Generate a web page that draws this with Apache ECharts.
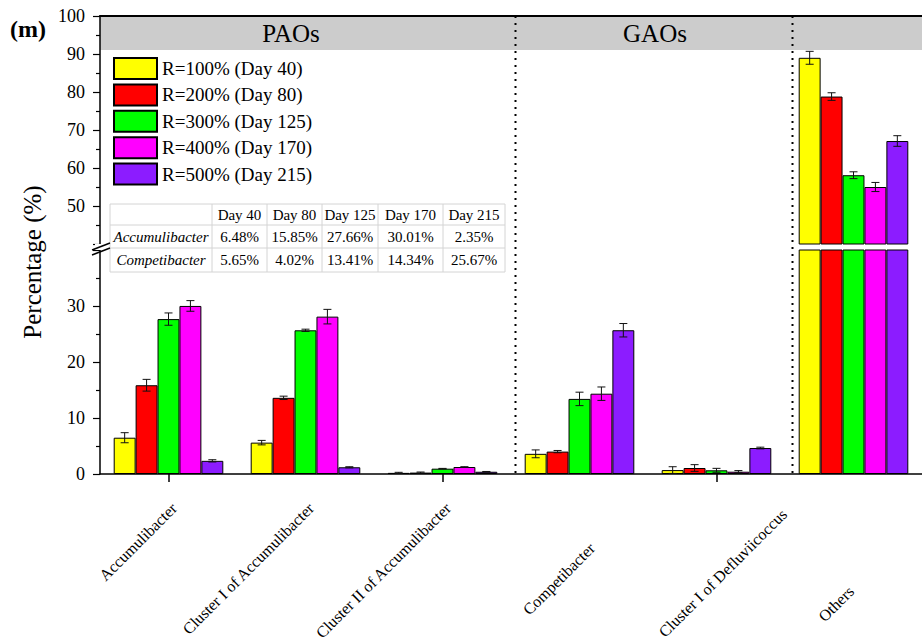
<!DOCTYPE html>
<html><head><meta charset="utf-8">
<script src="https://cdn.jsdelivr.net/npm/echarts@6/dist/echarts.min.js"></script>
<style>html,body{margin:0;padding:0;background:#fff}#chart{width:922px;height:642px}</style>
</head><body><div id="chart"></div>
<script>
// ---------- data ----------
const categories = ['Accumulibacter', 'Cluster I of Accumulibacter', 'Cluster II of Accumulibacter',
  'Competibacter', 'Cluster I of Defluviicoccus', 'Others'];
const seriesNames = ['R=100% (Day 40)', 'R=200% (Day 80)', 'R=300% (Day 125)', 'R=400% (Day 170)', 'R=500% (Day 215)'];
const day40  = [6.48, 5.6, 0.2, 3.6, 0.7, 89.0];
const day80  = [15.85, 13.6, 0.25, 4.0, 1.07, 78.8];
const day125 = [27.66, 25.66, 0.95, 13.41, 0.66, 58.1];
const day170 = [30.01, 28.1, 1.25, 14.34, 0.41, 55.0];
const day215 = [2.35, 1.2, 0.4, 25.67, 4.64, 67.1];
const err40  = [0.9, 0.4, 0.1, 0.7, 0.6, 1.7];
const err80  = [1.05, 0.3, 0.1, 0.2, 0.6, 1.0];
const err125 = [1.1, 0.2, 0.05, 1.2, 0.35, 0.9];
const err170 = [0.95, 1.3, 0.05, 1.2, 0.2, 1.2];
const err215 = [0.2, 0.1, 0.05, 1.2, 0.15, 1.4];
const groupLabels = ['PAOs', 'GAOs'];
const tableHeader = ['Day 40', 'Day 80', 'Day 125', 'Day 170', 'Day 215'];
const tableRowNames = ['Accumulibacter', 'Competibacter'];
const tableAccumulibacter = ['6.48%', '15.85%', '27.66%', '30.01%', '2.35%'];
const tableCompetibacter = ['5.65%', '4.02%', '13.41%', '14.34%', '25.67%'];
const lowerRange = [0, 40];
const upperRange = [40, 100];

// ---------- style / layout ----------
const colors = ['#FFFF00', '#FF0000', '#00FF00', '#FF00FF', '#8C1CFF'];
const FONT = "'Liberation Serif', 'Times New Roman', serif";
const LEFT = 100, BAND = 138.5, PLOT_W = BAND * 6;
const UP_TOP = 16, UP_H = 228;
const LO_TOP = 250, LO_H = 224;
const BAR_FRAC = 0.16;
// label anchor offsets from each category tick (x) and from the x axis line (y)
const labelOffsets = [[0, 26], [0, 26], [0, 26], [7, 66], [62, 32], [-8, 109]];

const values = [day40, day80, day125, day170, day215];
const errors = [err40, err80, err125, err170, err215];

const chart = echarts.init(document.getElementById('chart'), null, { renderer: 'svg' });

function errSeries(i, axisIdx, lo, hi) {
  const data = [];
  values[i].forEach((v, j) => { if (v > lo && v < hi) data.push([j, v, errors[i][j]]); });
  return {
    type: 'custom', name: 'err' + i + '_' + axisIdx, xAxisIndex: axisIdx, yAxisIndex: axisIdx, z: 5,
    data: data,
    renderItem: function (params, api) {
      const j = api.value(0), v = api.value(1), e = api.value(2);
      const band = api.size([1, 0])[0];
      const off = (i - 2) * band * BAR_FRAC;
      const t = api.coord([j, v + e]), b = api.coord([j, v - e]);
      const x = t[0] + off, cw = 4;
      const st = { stroke: '#111', lineWidth: 1 };
      return { type: 'group', children: [
        { type: 'line', shape: { x1: x, y1: t[1], x2: x, y2: b[1] }, style: st },
        { type: 'line', shape: { x1: x - cw, y1: t[1], x2: x + cw, y2: t[1] }, style: st },
        { type: 'line', shape: { x1: x - cw, y1: b[1], x2: x + cw, y2: b[1] }, style: st }
      ] };
    }
  };
}

const series = [];
values.forEach((vals, i) => {
  const common = {
    type: 'bar', name: seriesNames[i], barWidth: (BAR_FRAC * 100) + '%', barGap: '0%',
    itemStyle: { color: colors[i], borderColor: '#000', borderWidth: 1 }, clip: true
  };
  series.push(Object.assign({}, common, { xAxisIndex: 0, yAxisIndex: 0,
    data: vals.map(v => v > upperRange[0] ? v : '-') }));
  series.push(Object.assign({}, common, { xAxisIndex: 1, yAxisIndex: 1, data: vals.slice() }));
});
values.forEach((vals, i) => {
  series.push(errSeries(i, 0, upperRange[0], upperRange[1] + 1));
  series.push(errSeries(i, 1, -1, lowerRange[1]));
});

const yLabel = { fontFamily: FONT, fontSize: 18, color: '#000', margin: 15 };
const yAxisBase = {
  type: 'value', interval: 10,
  axisLine: { show: true, lineStyle: { color: '#000', width: 1.5 } },
  axisTick: { show: true, inside: false, length: 7, lineStyle: { color: '#000', width: 1.2 } },
  minorTick: { show: true, splitNumber: 2, length: 4, lineStyle: { color: '#000', width: 1.2 } },
  splitLine: { show: false }
};

// table graphic
const colX = [110, 212, 267, 322, 378, 443, 505];
const rowY = [204, 225, 248, 272];
const tableEls = [];
tableEls.push({ type: 'rect', shape: { x: colX[0], y: rowY[0], width: colX[6] - colX[0], height: rowY[3] - rowY[0] },
  style: { fill: '#fff', stroke: '#d4d4d4', lineWidth: 1 }, z: 20 });
colX.slice(1, 6).forEach(x => tableEls.push({ type: 'line', shape: { x1: x, y1: rowY[0], x2: x, y2: rowY[3] },
  style: { stroke: '#d4d4d4', lineWidth: 1 }, z: 21 }));
rowY.slice(1, 3).forEach(y => tableEls.push({ type: 'line', shape: { x1: colX[0], y1: y, x2: colX[6], y2: y },
  style: { stroke: '#d4d4d4', lineWidth: 1 }, z: 21 }));
function cellText(txt, c, r, italic) {
  tableEls.push({ type: 'text', z: 22,
    x: (colX[c] + colX[c + 1]) / 2, y: (rowY[r] + rowY[r + 1]) / 2,
    style: { text: txt, fontFamily: FONT, fontSize: 15, fontStyle: italic ? 'italic' : 'normal',
      fill: '#000', align: 'center', verticalAlign: 'middle' } });
}
tableHeader.forEach((t, k) => cellText(t, k + 1, 0));
tableRowNames.forEach((t, r) => cellText(t, 0, r + 1, true));
tableAccumulibacter.forEach((t, k) => cellText(t, k + 1, 1));
tableCompetibacter.forEach((t, k) => cellText(t, k + 1, 2));

const dotted = { stroke: '#000', lineWidth: 2, lineDash: [2, 5] };
const graphic = [
  { type: 'rect', z: -10, shape: { x: LEFT, y: UP_TOP, width: PLOT_W, height: 34 }, style: { fill: '#cccccc' } },
  { type: 'line', z: 30, shape: { x1: LEFT + 3 * BAND, y1: UP_TOP, x2: LEFT + 3 * BAND, y2: LO_TOP + LO_H }, style: dotted },
  { type: 'line', z: 30, shape: { x1: LEFT + 5 * BAND, y1: UP_TOP, x2: LEFT + 5 * BAND, y2: LO_TOP + LO_H }, style: dotted },
  { type: 'text', z: 30, x: 291, y: 33, style: { text: groupLabels[0], fontFamily: FONT, fontSize: 25, fill: '#000', align: 'center', verticalAlign: 'middle' } },
  { type: 'text', z: 30, x: 655, y: 33, style: { text: groupLabels[1], fontFamily: FONT, fontSize: 25, fill: '#000', align: 'center', verticalAlign: 'middle' } },
  { type: 'text', z: 30, x: 10, y: 29, style: { text: '(m)', fontFamily: FONT, fontSize: 24, fontWeight: 'bold', fill: '#000', align: 'left', verticalAlign: 'middle' } },
  { type: 'text', z: 30, x: 32, y: 262, rotation: Math.PI / 2, style: { text: 'Percentage (%)', fontFamily: FONT, fontSize: 25, fill: '#000', align: 'center', verticalAlign: 'middle' } },
  // axis break marks
  { type: 'rect', z: 30, shape: { x: 95, y: 244, width: 10, height: 6 }, style: { fill: '#fff' } },
  { type: 'line', z: 31, shape: { x1: 92, y1: 250, x2: 110, y2: 243 }, style: { stroke: '#000', lineWidth: 1.5 } },
  { type: 'line', z: 31, shape: { x1: 92, y1: 255, x2: 110, y2: 248 }, style: { stroke: '#000', lineWidth: 1.5 } }
].concat(tableEls);

chart.setOption({
  animation: false,
  backgroundColor: '#fff',
  grid: [
    { left: LEFT, top: UP_TOP, width: PLOT_W, height: UP_H },
    { left: LEFT, top: LO_TOP, width: PLOT_W, height: LO_H }
  ],
  legend: {
    data: seriesNames, orient: 'vertical', left: 113, top: 57, icon: 'rect',
    itemWidth: 43, itemHeight: 21, itemGap: 3.4, padding: 0,
    textStyle: { fontFamily: FONT, fontSize: 19, color: '#000', lineHeight: 21 }
  },
  xAxis: [
    { type: 'category', gridIndex: 0, data: categories, position: 'top',
      axisLine: { show: true, onZero: false, lineStyle: { color: '#000', width: 2 } },
      axisTick: { show: false }, axisLabel: { show: false } },
    { type: 'category', gridIndex: 1, data: categories,
      axisLine: { show: true, onZero: false, lineStyle: { color: '#000', width: 1.5 } },
      axisTick: { show: true, alignWithLabel: true, length: 8, lineStyle: { color: '#000', width: 1.5 } },
      axisLabel: { show: false } }
  ],
  yAxis: [
    Object.assign({}, yAxisBase, { gridIndex: 0, min: upperRange[0], max: upperRange[1],
      axisLabel: Object.assign({}, yLabel, { formatter: v => v >= 50 ? String(v) : '' }) }),
    Object.assign({}, yAxisBase, { gridIndex: 1, min: lowerRange[0], max: lowerRange[1],
      axisLabel: Object.assign({}, yLabel, { formatter: v => v <= 30 ? String(v) : '' }) })
  ],
  series: series,
  graphic: graphic
});

// category labels, anchored to the axis positions
const axisY = chart.convertToPixel({ yAxisIndex: 1 }, 0);
const labelEls = categories.map((c, k) => {
  const tx = chart.convertToPixel({ xAxisIndex: 1 }, c);
  return { type: 'text', z: 30, x: tx + labelOffsets[k][0], y: axisY + labelOffsets[k][1], rotation: Math.PI / 4,
    style: { text: c, fontFamily: FONT, fontSize: 16, fill: '#000', align: 'right', verticalAlign: 'top' } };
});
chart.setOption({ graphic: graphic.concat(labelEls) });
</script></body></html>
